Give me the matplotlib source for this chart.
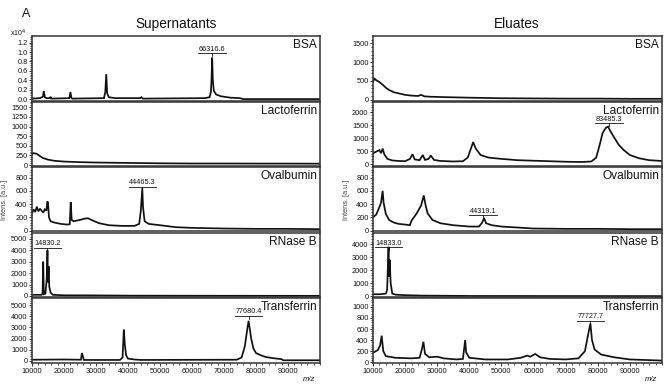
#!/usr/bin/env python3
"""
MALDI spectra: supernatants vs eluates for five proteins
"""

import matplotlib
matplotlib.use('Agg')
import matplotlib.pyplot as plt
from matplotlib.ticker import MultipleLocator, AutoMinorLocator
import matplotlib.transforms as mtransforms

plt.rcParams['font.family'] = ['Liberation Sans', 'DejaVu Sans']

INK = '#111111'
SPINE = '#333333'

proteins = ['BSA', 'Lactoferrin', 'Ovalbumin', 'RNase B', 'Transferrin']

# ---- Supernatants (m/z, intensity) ----
sup_bsa_mz = [10000, 12500, 13400, 13700, 14000, 14500, 15600, 15800, 16000, 21700, 22000, 22300,
              22600, 32500, 32900, 33200, 33500, 34000, 36000, 43800, 44200, 44600, 64000, 65500,
              65900, 66100, 66300, 66500, 66800, 67500, 69000, 72000, 75000, 76000, 100000]
sup_bsa_int = [0.01, 0.02, 0.05, 0.17, 0.04, 0.02, 0.02, 0.05, 0.01, 0.02, 0.15, 0.03,
               0.01, 0.02, 0.15, 0.53, 0.12, 0.04, 0.02, 0.02, 0.04, 0.01, 0.02, 0.04,
               0.15, 0.42, 0.88, 0.42, 0.18, 0.10, 0.06, 0.03, 0.02, 0.0, 0.0]

sup_lac_mz = [10000, 10500, 11500, 12500, 13500, 15000, 17000, 20000, 25000, 30000, 40000,
              50000, 60000, 70000, 80000, 90000, 100000]
sup_lac_int = [280, 310, 290, 230, 180, 140, 110, 90, 75, 65, 55, 45, 40, 40, 38, 38, 35]

sup_ova_mz = [10000, 10500, 11000, 11500, 12000, 12500, 13000, 13500, 14000, 14500, 14800, 15000,
              15300, 15800, 17000, 19000, 21000, 21800, 22100, 22400, 23000, 25000, 26500, 27500,
              29000, 31000, 34000, 38000, 42000, 43500, 44000, 44465, 44700, 45200, 46500, 50000,
              55000, 60000, 70000, 80000, 90000, 100000]
sup_ova_int = [260, 320, 280, 360, 290, 330, 300, 270, 320, 300, 440, 420,
               200, 140, 120, 100, 90, 95, 430, 160, 140, 160, 180, 185,
               150, 110, 80, 70, 70, 100, 300, 640, 350, 140, 100, 80,
               50, 40, 30, 25, 25, 20]

sup_rna_mz = [10000, 13000, 13300, 13500, 13700, 14200, 14600, 14830, 15000, 15200, 15400, 15800,
              16500, 20000, 30000, 40000, 60000, 100000]
sup_rna_int = [100, 100, 200, 3000, 150, 200, 1500, 4000, 1200, 2600, 800, 300,
               100, 60, 50, 30, 20, 10]

sup_tf_mz = [10000, 20000, 25300, 25600, 25900, 26200, 37500, 38300, 38700, 39000, 39400, 40000,
             42000, 44000, 74000, 75500, 76500, 77200, 77680, 78000, 78500, 79200, 80000, 81500,
             83000, 85000, 88000, 88500, 100000]
sup_tf_int = [100, 120, 100, 700, 400, 80, 80, 300, 2800, 1500, 500, 200,
              120, 80, 100, 300, 1300, 2700, 3600, 3000, 2000, 1100, 700, 500,
              350, 250, 150, 50, 50]

# ---- Eluates (m/z, intensity) ----
elu_bsa_mz = [10000, 10500, 11000, 12000, 13000, 14000, 15000, 16500, 18000, 20000, 22000, 24000,
              25000, 26000, 28000, 32000, 40000, 50000, 60000, 70000, 80000, 90000, 100000]
elu_bsa_int = [480, 560, 520, 470, 400, 320, 260, 200, 170, 130, 110, 100,
               130, 90, 80, 70, 55, 40, 35, 30, 30, 25, 25]

elu_lac_mz = [10000, 11000, 12000, 12500, 13000, 13500, 14500, 16000, 18000, 20000, 21500, 22300,
              23000, 24500, 25500, 26200, 27300, 28000, 29000, 31000, 35000, 38000, 39500, 40500,
              41200, 42000, 43500, 46000, 50000, 55000, 60000, 65000, 70000, 75000, 78000, 79500,
              80500, 81500, 82500, 83200, 83800, 85000, 86500, 88000, 90000, 93000, 96000, 100000]
elu_lac_int = [420, 480, 540, 420, 600, 380, 200, 140, 120, 110, 200, 380,
               180, 150, 350, 160, 200, 330, 160, 120, 100, 110, 250, 600,
               850, 600, 350, 250, 200, 150, 130, 110, 90, 80, 100, 250,
               700, 1200, 1400, 1450, 1300, 1050, 750, 550, 350, 220, 150, 120]

elu_ova_mz = [10000, 11000, 11800, 12500, 13000, 13300, 14000, 15000, 16500, 18000, 20000, 21500,
              22000, 23500, 25000, 25800, 26300, 27000, 28500, 31000, 35000, 40000, 43000, 44000,
              44600, 45200, 47000, 50000, 55000, 60000, 70000, 80000, 90000, 100000]
elu_ova_int = [200, 240, 330, 420, 600, 420, 250, 160, 120, 100, 90, 80,
               150, 250, 380, 530, 400, 260, 160, 110, 80, 60, 60, 120,
               190, 110, 80, 60, 45, 30, 25, 25, 20, 20]

elu_rna_mz = [10000, 12000, 14000, 14400, 14833, 15000, 15200, 15500, 16000, 17000, 20000, 25000,
              30000, 40000, 100000]
elu_rna_int = [150, 150, 200, 500, 3800, 1500, 2800, 1000, 200, 120, 80, 50, 40, 20, 10]

elu_tf_mz = [10000, 11500, 12200, 12700, 13200, 14000, 17000, 22000, 24500, 25300, 25700, 26200,
             27500, 30000, 32000, 36000, 38000, 38700, 39000, 40000, 45000, 52000, 56000, 58000,
             59000, 60500, 62000, 65000, 70000, 74000, 76000, 77000, 77700, 78200, 79000, 81000,
             85000, 90000, 95000, 100000]
elu_tf_int = [170, 220, 300, 480, 200, 110, 80, 70, 80, 250, 370, 150,
              90, 100, 70, 50, 60, 400, 180, 80, 50, 50, 80, 120,
              100, 150, 90, 60, 50, 70, 200, 500, 700, 400, 230, 140,
              90, 50, 40, 30]

# labelled peaks (m/z, intensity), one per panel or None
sup_peaks = [(66316.6, 0.88), None, (44465.3, 640), (14830.2, 4000), (77680.4, 3600)]
elu_peaks = [None, (83485.3, 1450), (44319.1, 190), (14833.0, 3800), (77727.7, 700)]

sup_series = [(sup_bsa_mz, sup_bsa_int), (sup_lac_mz, sup_lac_int), (sup_ova_mz, sup_ova_int),
              (sup_rna_mz, sup_rna_int), (sup_tf_mz, sup_tf_int)]
elu_series = [(elu_bsa_mz, elu_bsa_int), (elu_lac_mz, elu_lac_int), (elu_ova_mz, elu_ova_int),
              (elu_rna_mz, elu_rna_int), (elu_tf_mz, elu_tf_int)]

# layout per panel: ylim, major step, label height (axes fraction)
sup_ylims = [(-0.03, 1.34), (-25, 1650), (-15, 960), (-90, 5550), (-150, 5650)]
sup_steps = [0.2, 250, 200, 1000, 1000]
sup_label_y = [0.73, None, 0.69, 0.76, 0.72]

elu_ylims = [(-20, 1695), (-75, 2420), (-15, 960), (-60, 4900), (-5, 1160)]
elu_steps = [500, 500, 200, 1000, 200]
elu_label_y = [None, 0.66, 0.25, 0.77, 0.65]

W, H = 669, 392


def px_axes(x0, x1, y0, y1):
    """axes rect from pixel coordinates (top-left origin)"""
    return [x0 / W, 1 - y1 / H, (x1 - x0) / W, (y1 - y0) / H]


def label_peak(ax, mz, yfrac, ypeak):
    """underlined m/z label with a small tick down to the peak"""
    trans = mtransforms.blended_transform_factory(ax.transData, ax.transAxes)
    hw = 4300
    ax.plot([mz - hw, mz + hw], [yfrac, yfrac], transform=trans, color=INK, lw=0.6,
            clip_on=False)
    ax.plot([mz, mz], [yfrac, yfrac - 0.04], transform=trans, color=INK, lw=0.6)
    ax.text(mz, yfrac + 0.01, f'{mz:.1f}', transform=trans, fontsize=5.2,
            ha='center', va='bottom', color=INK)


def draw_column(fig, x0, x1, series, ylims, steps, peaks, label_y):
    tops = [36, 101.5, 167, 232.5, 298]
    h = 64.5
    axes = []
    for i, ((mz, inten), ylim, step, peak, ly) in enumerate(
            zip(series, ylims, steps, peaks, label_y)):
        ax = fig.add_axes(px_axes(x0, x1, tops[i], tops[i] + h))
        ax.plot(mz, inten, color=INK, lw=1.25, solid_joinstyle='miter')
        ax.set_xlim(10000, 100000)
        ax.set_ylim(*ylim)
        ax.yaxis.set_major_locator(MultipleLocator(step))
        ax.yaxis.set_minor_locator(AutoMinorLocator(5))
        if step < 1:
            ax.yaxis.set_major_formatter(plt.FuncFormatter(lambda v, p: f'{v:.1f}'))
        ax.tick_params(axis='y', which='major', direction='out', length=2.2, width=0.6,
                       labelsize=5.3, pad=1, colors=INK)
        ax.tick_params(axis='y', which='minor', direction='out', length=1.2, width=0.5)
        ax.tick_params(axis='y', which='both', right=False)
        for s in ax.spines.values():
            s.set_linewidth(1.1)
            s.set_color(SPINE)
        if i < 4:
            ax.set_xticks([])
        else:
            ax.xaxis.set_minor_locator(AutoMinorLocator(5))
            ax.set_xticks([10000 * k for k in range(1, 10)])
            ax.tick_params(axis='x', which='major', direction='out', length=2.2, width=0.6,
                           labelsize=5.3, pad=1.5, colors=INK)
            ax.tick_params(axis='x', which='minor', direction='out', length=1.2, width=0.5)
            ax.text(0.985, -0.26, 'm/z', transform=ax.transAxes, fontsize=5.5,
                    style='italic', ha='right', va='center', color=INK)
        ax.text(0.99, 0.95, proteins[i], transform=ax.transAxes, fontsize=8.6,
                ha='right', va='top', color=INK)
        if peak is not None:
            label_peak(ax, peak[0], ly, peak[1])
        axes.append(ax)
    # intensity label beside the middle panel
    fig.text((x0 - 27) / W, 1 - 200 / H, 'Intens. [a.u.]', rotation=90, fontsize=5.3,
             ha='center', va='center', color='#444444')
    return axes


fig = plt.figure(figsize=(W / 100, H / 100), dpi=100)

draw_column(fig, 32, 320, sup_series, sup_ylims, sup_steps, sup_peaks, sup_label_y)
draw_column(fig, 373, 662, elu_series, elu_ylims, elu_steps, elu_peaks, elu_label_y)

fig.text(22 / W, 1 - 14 / H, 'A', fontsize=9, ha='left', va='center', color=INK)
fig.text(176 / W, 1 - 24 / H, 'Supernatants', fontsize=9.8, ha='center', va='center', color=INK)
fig.text(517 / W, 1 - 24 / H, 'Eluates', fontsize=9.8, ha='center', va='center', color=INK)
fig.text(10 / W, 1 - 33 / H, r'x10$^4$', fontsize=5, ha='left', va='center', color=INK)

fig.savefig('out.png', dpi=100, facecolor='white')
